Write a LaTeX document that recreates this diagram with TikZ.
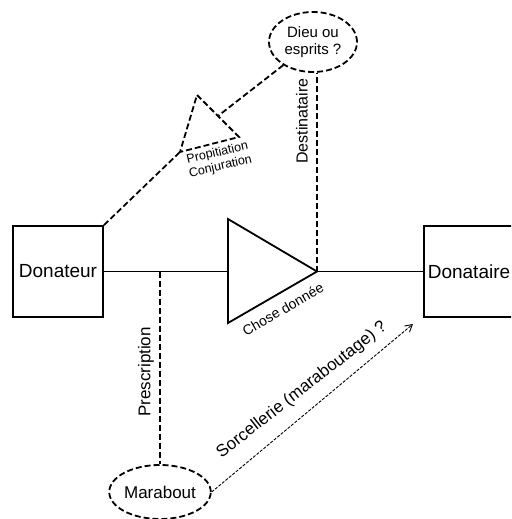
\documentclass[tikz,border=0pt]{standalone}
\usepackage{fontspec}
\setmainfont{Liberation Sans}
\usetikzlibrary{shapes.geometric,arrows.meta,calc}
\begin{document}
\begin{tikzpicture}[x=1pt,y=-1pt,
  solidline/.style={line width=1.8pt,line join=miter},
  dashline/.style={line width=1.8pt,dash pattern=on 6pt off 3pt},
  fineline/.style={line width=0.9pt,dash pattern=on 3pt off 1.5pt,
    -{Straight Barb[length=7pt,width=8pt,line width=0.9pt]}},
  party/.style={draw,solidline,rectangle,minimum width=90pt,minimum height=91pt,
    inner sep=0pt,font=\fontsize{19}{22}\selectfont},
  spirit/.style={draw,dashline,ellipse,inner sep=0pt,align=center},
  lbl/.style={inner sep=0pt,align=center}]
\useasboundingbox (0,0) rectangle (511,519);
\clip (0,0) rectangle (511,519);

% the two parties of the exchange
\node[party] (donateur) at (58,271.5) {Donateur};
\node[party] (donataire) at (469,271.5) {Donataire};

% the gift: a triangle pointing towards the receiver
\coordinate (cdA) at (228,219);
\coordinate (cdB) at (228,323);
\coordinate (cdT) at (317,271.5);
\coordinate (cdL) at (228,271.5);
\draw[solidline] (cdA) -- (cdT) -- (cdB) -- cycle;
\draw[solidline] (donateur.east) -- (cdL);
\draw[solidline] (cdT) -- (donataire.west);
\node[lbl,rotate=30,font=\fontsize{14}{16}\selectfont] (chose) at (283,309) {Chose donnée};

% the invisible addressee
\node[spirit,minimum width=88pt,minimum height=60pt,
  font=\fontsize{15}{17}\selectfont] (dieu) at (313,42) {Dieu ou\\esprits ?};
\draw[dashline] (cdT) -- (cdT |- dieu.south);
\node[lbl,rotate=90,font=\fontsize{16}{18}\selectfont] (dest) at (302,121) {Destinataire};

% propitiation triangle, pointing back to the giver
\coordinate (prA) at (197,95);
\coordinate (prB) at (239,137);
\coordinate (prT) at (180,152);
\coordinate (prM) at ($(prA)!0.5!(prB)$);
\draw[dashline] (prA) -- (prB) -- (prT) -- cycle;
\draw[dashline] (dieu) -- (prM);
\draw[dashline] (donateur.north east) -- (prT);
\node[lbl,rotate=13,font=\fontsize{12.5}{14}\selectfont] (prop) at (219,160)
  {Propitiation\\Conjuration};

% the marabout and his two links
\node[spirit,minimum width=88pt,minimum height=54pt,
  font=\fontsize{17}{19}\selectfont] (marabout) at (160,492) {Marabout};
\coordinate (presc) at (160,271.5);
\draw[dashline] (presc) -- (marabout.north);
\node[lbl,rotate=90,font=\fontsize{17}{19}\selectfont] (prescl) at (146,372) {Prescription};

\coordinate (sortip) at (413,324);
\draw[fineline] (marabout.east) -- (sortip);
\node[lbl,rotate=38,font=\fontsize{17}{19}\selectfont] (sorc) at (302,390)
  {Sorcellerie (maraboutage) ?};
\end{tikzpicture}
\end{document}
